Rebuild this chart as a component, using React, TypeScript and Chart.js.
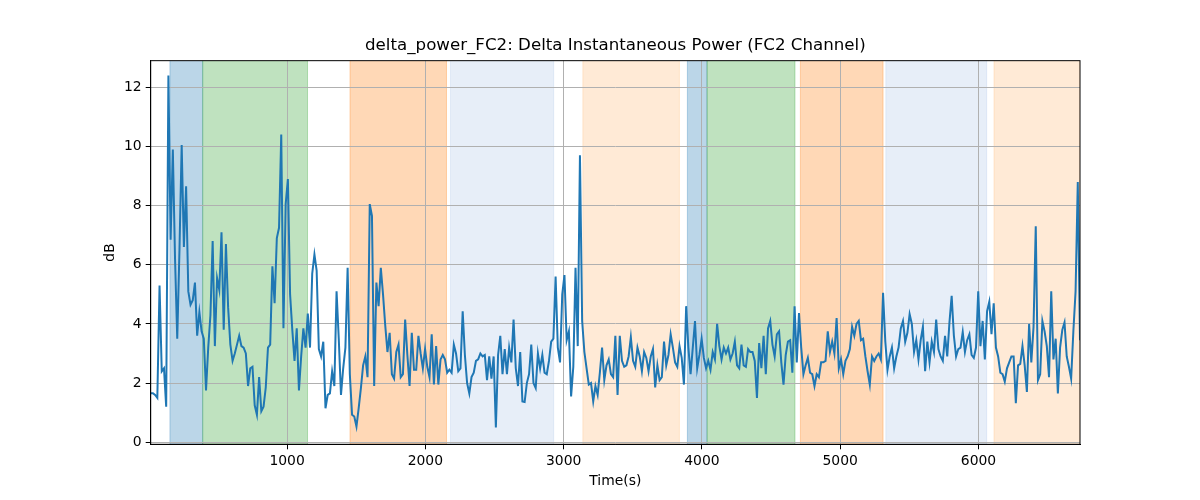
import { useEffect, useRef } from "react";
import { Chart, registerables, type Plugin } from "chart.js";

Chart.register(...registerables);

// sampling of the recording (seconds)
const startTime = 14;
const stepTime = 16;

// delta power, dB
const powerBlockA = [
  1.66, 1.66, 1.6, 1.5, 5.3, 2.4, 2.5, 1.2, 12.4, 6.85,
  9.9, 6.2, 3.5, 6.5, 10.05, 6.6, 8.65, 5.1, 4.65, 4.8,
  5.4, 3.6, 4.4, 3.75, 3.5, 1.75, 3.2, 4.3, 6.8, 3.25,
  5.55, 5.15, 7.1, 3.8, 6.7, 4.55, 3.3, 2.75, 3.0, 3.3,
  3.6, 3.25, 3.2, 3.0, 1.9, 2.5, 2.55, 1.25, 0.93, 2.2,
  1.05, 1.2, 1.85, 3.2, 3.3, 5.95, 4.7, 6.9, 7.25, 10.4,
  3.85, 8.05, 8.9, 5.0, 3.8, 2.75, 3.85, 1.75, 2.9, 3.85,
  3.2, 4.35,
];
const powerBlockB = [
  3.2, 5.7, 6.35, 5.8, 3.15, 2.9, 3.4, 1.15, 1.6, 1.65,
  2.4, 1.9, 5.1, 3.5, 1.6, 2.5, 3.2, 5.9, 2.3, 0.93,
  0.87, 0.53, 1.15, 1.83, 2.6, 2.9, 2.2, 8.05, 7.65, 1.9,
  5.4, 4.6, 5.9, 5.0, 3.95, 3.05, 3.7, 2.3, 2.15, 3.05,
  3.3, 2.2, 2.3, 4.15, 2.95, 1.9, 3.7, 2.45, 2.45, 3.6,
  3.0, 2.5, 3.15, 2.55, 2.2, 3.65, 1.95, 3.25, 1.95, 2.8,
  2.95, 2.8, 2.35, 2.45, 2.35, 3.3, 3.0, 2.4, 2.5, 4.43,
];
const powerBlockC = [
  2.95, 2.0, 1.65, 2.2, 2.35, 2.75, 2.8, 3.0, 2.9, 2.95,
  2.1, 2.9, 2.15, 2.9, 0.5, 2.95, 3.6, 2.3, 3.15, 2.3,
  3.2, 2.7, 4.15, 2.5, 1.9, 3.05, 1.38, 1.36, 2.0, 2.3,
  3.3, 2.0, 1.83, 3.0, 2.5, 2.95, 2.35, 2.3, 2.75, 3.4,
  3.5, 5.6, 3.2, 2.7, 5.0, 5.65, 3.45, 3.75, 1.55, 2.55,
  5.9, 3.25, 9.7, 4.1, 3.05, 2.5, 1.95, 2.0, 1.38, 1.9,
  1.6, 2.35, 3.2, 2.1, 2.6, 2.8, 2.3, 2.2, 3.6, 1.6,
];
const powerBlockD = [
  3.6, 2.75, 2.55, 2.6, 2.9, 3.55, 2.75, 2.55, 3.2, 2.9,
  2.4, 3.05, 2.85, 2.4, 2.9, 3.15, 1.85, 2.6, 2.1, 2.2,
  3.4, 2.6, 2.95, 3.65, 3.2, 2.7, 2.55, 3.25, 2.85, 1.95,
  4.6, 3.2, 2.3, 3.2, 4.1, 2.5, 2.95, 3.5, 2.85, 2.5,
  2.75, 2.45, 3.05, 2.8, 4.0, 3.25, 2.8, 3.2, 3.0, 3.2,
  2.8, 3.0, 3.4, 2.6, 2.5, 3.3, 2.6, 2.55, 3.15, 3.05,
  3.05, 2.75, 1.5, 3.35, 2.5, 3.6, 2.3, 3.85, 4.1, 3.3,
];
const powerBlockE = [
  2.9, 3.65, 3.75, 2.7, 1.95, 2.95, 3.4, 3.45, 2.35, 4.6,
  2.7, 4.37, 3.2, 2.3, 2.6, 2.85, 2.35, 2.3, 1.9, 2.3,
  2.2, 2.7, 2.7, 2.75, 3.75, 3.05, 3.4, 3.0, 4.2, 2.5,
  2.8, 2.3, 2.75, 2.9, 3.15, 3.9, 3.6, 4.0, 4.1, 3.45,
  3.5, 2.9, 2.4, 1.95, 2.9, 2.75, 2.9, 3.0, 2.8, 5.05,
  3.4, 2.45, 2.9, 3.2, 2.5, 2.9, 3.2, 3.85, 4.1, 3.4,
  3.7, 4.33, 4.0, 3.05, 3.45, 2.8, 3.45, 3.9, 2.4, 3.4,
];
const powerBlockF = [
  2.7, 3.4, 3.05, 4.15, 3.15, 2.9, 2.75, 3.6, 2.9, 4.05,
  4.95, 3.6, 2.9, 3.15, 3.2, 3.73, 3.05, 3.45, 3.65, 2.95,
  2.85, 3.2, 5.1, 3.25, 4.1, 2.8, 4.43, 4.75, 3.65, 4.7,
  3.2, 2.9, 2.35, 2.3, 2.05, 2.5, 2.7, 2.9, 2.9, 1.32,
  2.6, 2.65, 3.25, 2.6, 1.7, 4.0, 2.7, 3.9, 7.3, 2.1,
  2.3, 4.1, 3.75, 3.25, 2.2, 5.1, 2.8, 3.5, 1.65, 3.2,
  3.8, 4.05, 2.9, 2.55, 2.15, 3.75, 5.1, 8.8, 3.45,
];

const power = [
  ...powerBlockA, ...powerBlockB, ...powerBlockC,
  ...powerBlockD, ...powerBlockE, ...powerBlockF,
];
const times = power.map((_, i) => startTime + i * stepTime);

// shaded stages (s)
const spanStarts = [153, 390, 1455, 2182, 3139, 3895, 4037, 4712, 5330, 6112];
const spanEnds = [390, 1148, 2153, 2928, 3837, 4037, 4673, 5310, 6059, 6734];
const spanColors = [
  "rgba(31,119,180,0.3)", "rgba(44,160,44,0.3)", "rgba(255,127,14,0.3)",
  "rgba(174,199,232,0.3)", "rgba(255,187,120,0.3)",
  "rgba(31,119,180,0.3)", "rgba(44,160,44,0.3)", "rgba(255,127,14,0.3)",
  "rgba(174,199,232,0.3)", "rgba(255,187,120,0.3)",
];

const xTicks = [1000, 2000, 3000, 4000, 5000, 6000];
const yTicks = [0, 2, 4, 6, 8, 10, 12];

const FONT = "DejaVu Sans";

const spansPlugin: Plugin<"line"> = {
  id: "spans",
  beforeDraw(chart) {
    const { ctx, chartArea: a } = chart;
    const x = chart.scales.x;
    ctx.save();
    ctx.beginPath();
    ctx.rect(a.left, a.top, a.right - a.left, a.bottom - a.top);
    ctx.clip();
    spanStarts.forEach((s, i) => {
      const x0 = x.getPixelForValue(s);
      const x1 = x.getPixelForValue(spanEnds[i]);
      ctx.fillStyle = spanColors[i];
      ctx.fillRect(x0, a.top, x1 - x0, a.bottom - a.top);
      ctx.strokeStyle = spanColors[i];
      ctx.lineWidth = 1;
      ctx.beginPath();
      ctx.moveTo(x0, a.top);
      ctx.lineTo(x0, a.bottom);
      ctx.moveTo(x1, a.top);
      ctx.lineTo(x1, a.bottom);
      ctx.stroke();
    });
    ctx.restore();
  },
  afterDraw(chart) {
    const { ctx, chartArea: a } = chart;
    ctx.save();
    ctx.strokeStyle = "#000";
    ctx.lineWidth = 1;
    ctx.strokeRect(a.left, a.top, a.right - a.left, a.bottom - a.top);
    ctx.restore();
  },
};

export default function App() {
  const canvasRef = useRef<HTMLCanvasElement>(null);

  useEffect(() => {
    document.body.style.margin = "0";
    if (!canvasRef.current) return;

    const chart = new Chart(canvasRef.current, {
      type: "line",
      data: {
        datasets: [
          {
            data: times.map((t, i) => ({ x: t, y: power[i] })),
            borderColor: "#1f77b4",
            borderWidth: 2,
            pointRadius: 0,
            tension: 0,
            fill: false,
          },
        ],
      },
      options: {
        animation: false,
        responsive: true,
        maintainAspectRatio: false,
        layout: { padding: { left: 102, right: 120, top: 36, bottom: 0 } },
        plugins: {
          legend: { display: false },
          tooltip: { enabled: false },
          title: {
            display: true,
            text: "delta_power_FC2: Delta Instantaneous Power (FC2 Channel)",
            color: "#000",
            fullSize: false,
            font: { family: FONT, size: 16.67, weight: "normal" },
            padding: { top: 0, bottom: 4.67 },
          },
        },
        scales: {
          x: {
            type: "linear",
            min: startTime,
            max: 6734,
            afterBuildTicks: (axis) => {
              axis.ticks = xTicks.map((v) => ({ value: v }));
            },
            afterFit: (axis) => {
              axis.height = 55.7;
            },
            grid: { color: "#b0b0b0", lineWidth: 1, tickColor: "#000", tickLength: 5 },
            border: { color: "#000", width: 1 },
            ticks: {
              color: "#000",
              padding: 4,
              maxRotation: 0,
              font: { family: FONT, size: 13.9 },
              callback: (v) => String(v),
            },
            title: {
              display: true,
              text: "Time(s)",
              color: "#000",
              font: { family: FONT, size: 13.9 },
              padding: { top: 0, bottom: 10.7 },
            },
          },
          y: {
            min: -0.07,
            max: 12.9,
            afterBuildTicks: (axis) => {
              axis.ticks = yTicks.map((v) => ({ value: v }));
            },
            afterFit: (axis) => {
              axis.width = 48.7;
            },
            grid: { color: "#b0b0b0", lineWidth: 1, tickColor: "#000", tickLength: 5 },
            border: { color: "#000", width: 1 },
            ticks: {
              color: "#000",
              padding: 4,
              font: { family: FONT, size: 13.9 },
            },
            title: {
              display: true,
              text: "dB",
              color: "#000",
              font: { family: FONT, size: 13.9 },
              padding: 0,
            },
          },
        },
      },
      plugins: [spansPlugin],
    });

    return () => chart.destroy();
  }, []);

  return (
    <div style={{ width: 1200, height: 500, position: "relative" }}>
      <canvas ref={canvasRef} />
    </div>
  );
}
